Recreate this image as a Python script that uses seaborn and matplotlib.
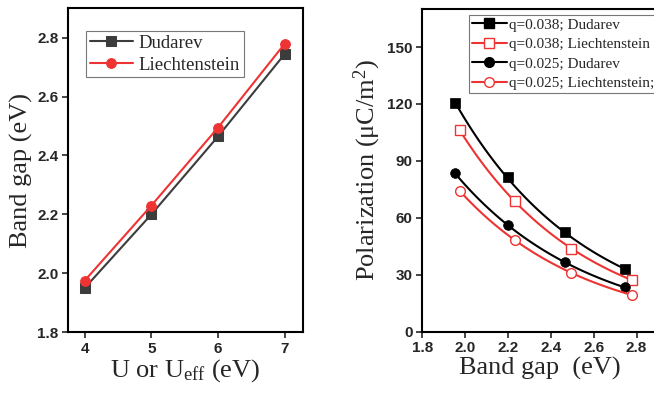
import numpy as np
import matplotlib
matplotlib.use('Agg')
from matplotlib import pyplot as plt
from matplotlib.lines import Line2D
import seaborn as sns

# left panel: band gap vs U
u_vals = [4, 5, 6, 7]
gap_dudarev = [1.950, 2.200, 2.465, 2.745]
gap_liecht = [1.975, 2.230, 2.495, 2.780]

# right panel: polarization vs band gap
pol_d038 = [120.5, 81.4, 52.3, 33.0]
pol_l038 = [106.2, 69.0, 43.5, 27.3]
pol_d025 = [83.7, 56.2, 36.5, 23.4]
pol_l025 = [74.3, 48.4, 30.8, 19.4]

sns.set_style('ticks')
plt.rcParams['font.family'] = ['Liberation Serif', 'DejaVu Serif']
plt.rcParams['mathtext.fontset'] = 'custom'
plt.rcParams['mathtext.rm'] = 'Liberation Serif'
plt.rcParams['mathtext.it'] = 'Liberation Serif:italic'
plt.rcParams['axes.linewidth'] = 1.5

BLACK = '#000000'
GREY = '#3c3c3c'
RED = '#ee3333'
tick_font = {'family': 'Liberation Sans', 'weight': 'bold', 'size': 11}

fig = plt.figure(figsize=(6.54, 3.94), dpi=100)
ax1 = fig.add_axes([0.104, 0.157, 0.359, 0.822])
ax2 = fig.add_axes([0.646, 0.158, 0.36, 0.819])

# ---- left
sns.lineplot(x=u_vals, y=gap_dudarev, ax=ax1, color=GREY, marker='s', markersize=6.5,
             markeredgecolor=GREY, linewidth=1.5, label='Dudarev')
sns.lineplot(x=u_vals, y=gap_liecht, ax=ax1, color=RED, marker='o', markersize=7,
             markeredgecolor=RED, linewidth=1.5, label='Liechtenstein')
ax1.set_xlim(3.75, 7.27)
ax1.set_ylim(1.8, 2.9)
ax1.set_xticks([4, 5, 6, 7])
ax1.set_yticks([1.8, 2.0, 2.2, 2.4, 2.6, 2.8])
ax1.set_yticklabels(['1.8', '2.0', '2.2', '2.4', '2.6', '2.8'])
ax1.set_xlabel('U or U$_{\\mathrm{eff}}$ (eV)', fontsize=19, labelpad=1)
ax1.set_ylabel('Band gap (eV)', fontsize=19, labelpad=3)
leg1 = ax1.legend(loc='upper left', bbox_to_anchor=(0.077, 0.93), fontsize=13.5,
                  frameon=True, fancybox=False, edgecolor='#555555',
                  handlelength=2.3, handletextpad=0.3, borderpad=0.2,
                  labelspacing=0.25, borderaxespad=0)
leg1.get_frame().set_linewidth(0.8)

# ---- right
series = [
    (gap_dudarev, pol_d038, BLACK, 's', BLACK, 'q=0.038; Dudarev'),
    (gap_liecht, pol_l038, RED, 's', 'white', 'q=0.038; Liechtenstein'),
    (gap_dudarev, pol_d025, BLACK, 'o', BLACK, 'q=0.025; Dudarev'),
    (gap_liecht, pol_l025, RED, 'o', 'white', 'q=0.025; Liechtenstein;'),
]
handles = []
for gx, py, col, mk, face, lab in series:
    gx = np.array(gx)
    py = np.array(py)
    coef = np.polyfit(gx, np.log(py), 1)
    xs = np.linspace(gx[0], gx[-1], 100)
    sns.lineplot(x=xs, y=np.exp(np.polyval(coef, xs)), ax=ax2, color=col, linewidth=1.5)
    ax2.plot(gx, py, linestyle='none', marker=mk, markersize=7, markerfacecolor=face,
             markeredgecolor=col, markeredgewidth=1.0 if face == 'white' else 0.5)
    handles.append(Line2D([], [], color=col, linewidth=1.5, marker=mk, markersize=7,
                          markerfacecolor=face, markeredgecolor=col, label=lab))
ax2.set_xlim(1.8, 2.9)
ax2.set_ylim(0, 170)
ax2.set_xticks([1.8, 2.0, 2.2, 2.4, 2.6, 2.8])
ax2.set_yticks([0, 30, 60, 90, 120, 150])
ax2.set_xlabel('Band gap  (eV)', fontsize=19, labelpad=1)
ax2.set_ylabel('Polarization (\u03bcC/m$^2$)', fontsize=19, labelpad=3)
leg2 = ax2.legend(handles=handles, loc='upper left', bbox_to_anchor=(0.197, 0.982),
                  fontsize=11, frameon=True, fancybox=False, edgecolor='#555555',
                  handlelength=2.3, handletextpad=0.15, borderpad=0.2,
                  labelspacing=0.38, borderaxespad=0)
leg2.get_frame().set_linewidth(0.8)

for ax in (ax1, ax2):
    for sp in ax.spines.values():
        sp.set_visible(True)
        sp.set_linewidth(1.5)
        sp.set_color('black')
    ax.tick_params(direction='out', length=4, width=1.2, top=False, right=False, pad=3)
    for lbl in ax.get_xticklabels() + ax.get_yticklabels():
        lbl.set_fontfamily(tick_font['family'])
        lbl.set_fontweight(tick_font['weight'])
        lbl.set_fontsize(tick_font['size'])

fig.savefig('out.png', dpi=100)
